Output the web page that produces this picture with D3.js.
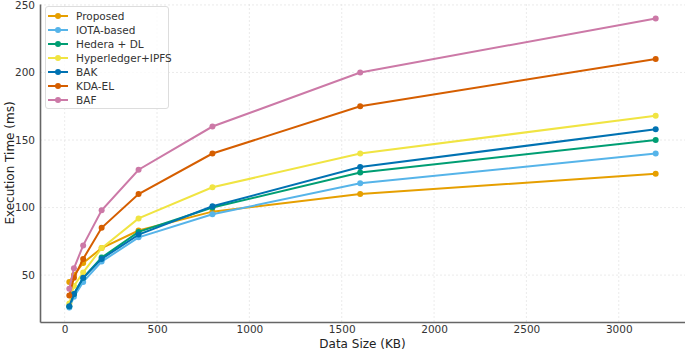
<!DOCTYPE html>
<html>
<head>
<meta charset="utf-8">
<script src="https://d3js.org/d3.v7.min.js"></script>
<style>
  body { margin: 0; background: #fff; }
  svg text { font-family: "DejaVu Sans", sans-serif; }
</style>
</head>
<body>
<div id="chart"></div>
<script>
// data sizes (KB)
var sizes = [25, 50, 100, 200, 400, 800, 1600, 3200];
// execution times (ms) per scheme
var proposed = [45, 50, 59, 70, 83, 97, 110, 125];
var iota = [26, 34, 45, 60, 78, 95, 118, 140];
var hedera = [27, 36, 48, 63, 82, 100, 126, 150];
var hyperledger = [29, 42, 52, 70, 92, 115, 140, 168];
var bak = [27, 36, 48, 62, 80, 101, 130, 158];
var kdael = [35, 48, 62, 85, 110, 140, 175, 210];
var baf = [40, 55, 72, 98, 128, 160, 200, 240];
var seriesNames = ["Proposed", "IOTA-based", "Hedera + DL", "Hyperledger+IPFS", "BAK", "KDA-EL", "BAF"];
var xTicks = [0, 500, 1000, 1500, 2000, 2500, 3000];
var yTicks = [50, 100, 150, 200, 250];

var colors = ["#E69F00", "#56B4E9", "#009E73", "#F0E442", "#0072B2", "#D55E00", "#CC79A7"];
var allSeries = [proposed, iota, hedera, hyperledger, bak, kdael, baf];

var width = 685, height = 350;
var margin = {top: 4, right: 0, bottom: 28, left: 40};

var svg = d3.select("#chart").append("svg")
  .attr("width", width).attr("height", height);

// matplotlib style 5% padding
var xMin = d3.min(sizes), xMax = d3.max(sizes);
var yMin = d3.min(allSeries, function(s) { return d3.min(s); });
var yMax = d3.max(allSeries, function(s) { return d3.max(s); });
var xPad = (xMax - xMin) * 0.05, yPad = (yMax - yMin) * 0.05;

var x = d3.scaleLinear().domain([xMin - xPad, xMax + xPad])
  .range([margin.left, width - margin.right]);
var y = d3.scaleLinear().domain([yMin - yPad, yMax + yPad])
  .range([height - margin.bottom, margin.top]);

// grid
svg.append("g").selectAll("line.gx").data(xTicks).enter().append("line")
  .attr("x1", function(d) { return x(d); }).attr("x2", function(d) { return x(d); })
  .attr("y1", margin.top).attr("y2", height - margin.bottom)
  .attr("stroke", "#e6e6e6").attr("stroke-width", 0.8).attr("stroke-dasharray", "2,2");
svg.append("g").selectAll("line.gy").data(yTicks).enter().append("line")
  .attr("x1", margin.left).attr("x2", width - margin.right)
  .attr("y1", function(d) { return y(d); }).attr("y2", function(d) { return y(d); })
  .attr("stroke", "#e6e6e6").attr("stroke-width", 0.8).attr("stroke-dasharray", "2,2");

// axes
var xAxis = d3.axisBottom(x).tickValues(xTicks).tickFormat(d3.format("d"))
  .tickSize(0).tickPadding(4).tickSizeOuter(0);
var yAxis = d3.axisLeft(y).tickValues(yTicks).tickFormat(d3.format("d"))
  .tickSize(0).tickPadding(5).tickSizeOuter(0);
var gx = svg.append("g").attr("transform", "translate(0," + (height - margin.bottom) + ")").call(xAxis);
var gy = svg.append("g").attr("transform", "translate(" + margin.left + ",0)").call(yAxis);
[gx, gy].forEach(function(g) {
  g.select(".domain").attr("stroke", "#666").attr("stroke-width", 1.6);
  g.selectAll(".tick text").attr("fill", "#333").attr("font-size", 10.5)
    .style("font-family", "'DejaVu Sans', sans-serif");
});

// axis titles
svg.append("text").attr("x", (margin.left + width - margin.right) / 2).attr("y", 348)
  .attr("text-anchor", "middle").attr("font-size", 12).attr("fill", "#222")
  .text("Data Size (KB)");
svg.append("text").attr("transform", "translate(14," + ((margin.top + height - margin.bottom) / 2) + ")rotate(-90)")
  .attr("text-anchor", "middle").attr("font-size", 12).attr("fill", "#222")
  .text("Execution Time (ms)");

// lines + markers
var line = d3.line().x(function(d, i) { return x(sizes[i]); }).y(function(d) { return y(d); });
allSeries.forEach(function(s, k) {
  svg.append("path").datum(s).attr("d", line)
    .attr("fill", "none").attr("stroke", colors[k]).attr("stroke-width", 2);
  svg.append("g").selectAll("circle").data(s).enter().append("circle")
    .attr("cx", function(d, i) { return x(sizes[i]); })
    .attr("cy", function(d) { return y(d); })
    .attr("r", 3).attr("fill", colors[k]);
});

// legend
var lg = svg.append("g");
lg.append("rect").attr("x", 45.5).attr("y", 6.5).attr("width", 123).attr("height", 102)
  .attr("rx", 2.5).attr("fill", "#fff").attr("fill-opacity", 0.8)
  .attr("stroke", "#dddddd").attr("stroke-width", 1);
seriesNames.forEach(function(name, k) {
  var yy = 16 + k * 14;
  lg.append("line").attr("x1", 48).attr("x2", 68).attr("y1", yy).attr("y2", yy)
    .attr("stroke", colors[k]).attr("stroke-width", 2);
  lg.append("circle").attr("cx", 58).attr("cy", yy).attr("r", 3).attr("fill", colors[k]);
  lg.append("text").attr("x", 76).attr("y", yy + 3.8).attr("font-size", 10.5)
    .attr("fill", "#333").text(name);
});
</script>
</body>
</html>
